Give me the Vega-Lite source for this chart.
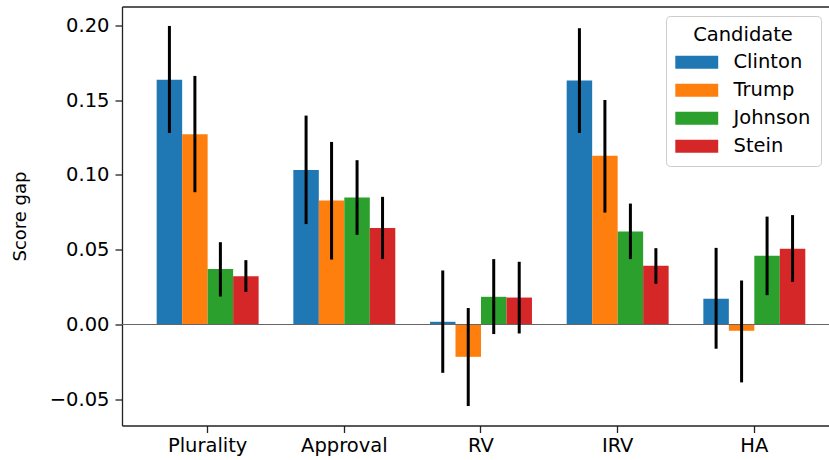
{
  "$schema": "https://vega.github.io/schema/vega-lite/v6.json",
  "width": 707,
  "height": 419,
  "autosize": {"type": "none"},
  "padding": {"left": 122, "top": 6.5, "right": 0, "bottom": 34.5},
  "background": "white",
  "config": {
    "view": {"stroke": null},
    "font": "DejaVu Sans",
    "axis": {
      "labelFont": "DejaVu Sans",
      "titleFont": "DejaVu Sans",
      "labelColor": "#000000",
      "titleColor": "#000000",
      "domainColor": "#222222",
      "tickColor": "#222222",
      "domainWidth": 1.3,
      "tickWidth": 1.3,
      "tickSize": 7,
      "grid": false
    },
    "legend": {
      "orient": "none",
      "legendX": 544,
      "legendY": 9.5,
      "padding": 10,
      "strokeColor": "#cccccc",
      "strokeWidth": 1,
      "cornerRadius": 4,
      "fillColor": "rgba(255,255,255,0.8)",
      "titleFont": "DejaVu Sans",
      "labelFont": "DejaVu Sans",
      "titleFontSize": 19.5,
      "labelFontSize": 19.5,
      "titleFontWeight": "normal",
      "titleColor": "#000000",
      "labelColor": "#000000",
      "titleAnchor": "middle",
      "titlePadding": 7,
      "rowPadding": 7,
      "symbolOffset": 11,
      "labelOffset": 27
    }
  },
  "data": {
    "values": [
      {"Method": "Plurality", "Candidate": "Clinton", "value": 0.1635, "lo": 0.128, "hi": 0.1995},
      {"Method": "Plurality", "Candidate": "Trump", "value": 0.1272, "lo": 0.0884, "hi": 0.1661},
      {"Method": "Plurality", "Candidate": "Johnson", "value": 0.037, "lo": 0.0187, "hi": 0.055},
      {"Method": "Plurality", "Candidate": "Stein", "value": 0.0323, "lo": 0.0218, "hi": 0.043},
      {"Method": "Approval", "Candidate": "Clinton", "value": 0.1033, "lo": 0.0671, "hi": 0.1396},
      {"Method": "Approval", "Candidate": "Trump", "value": 0.0828, "lo": 0.0434, "hi": 0.122},
      {"Method": "Approval", "Candidate": "Johnson", "value": 0.0848, "lo": 0.0599, "hi": 0.1098},
      {"Method": "Approval", "Candidate": "Stein", "value": 0.0644, "lo": 0.0437, "hi": 0.0853},
      {"Method": "RV", "Candidate": "Clinton", "value": 0.0018, "lo": -0.0323, "hi": 0.0361},
      {"Method": "RV", "Candidate": "Trump", "value": -0.0216, "lo": -0.0545, "hi": 0.011},
      {"Method": "RV", "Candidate": "Johnson", "value": 0.0185, "lo": -0.0064, "hi": 0.0437},
      {"Method": "RV", "Candidate": "Stein", "value": 0.018, "lo": -0.006, "hi": 0.0419},
      {"Method": "IRV", "Candidate": "Clinton", "value": 0.163, "lo": 0.128, "hi": 0.198},
      {"Method": "IRV", "Candidate": "Trump", "value": 0.1127, "lo": 0.0748, "hi": 0.15},
      {"Method": "IRV", "Candidate": "Johnson", "value": 0.0621, "lo": 0.0437, "hi": 0.0808},
      {"Method": "IRV", "Candidate": "Stein", "value": 0.0392, "lo": 0.0272, "hi": 0.051},
      {"Method": "HA", "Candidate": "Clinton", "value": 0.0172, "lo": -0.0162, "hi": 0.0512},
      {"Method": "HA", "Candidate": "Trump", "value": -0.0042, "lo": -0.0387, "hi": 0.0294},
      {"Method": "HA", "Candidate": "Johnson", "value": 0.0459, "lo": 0.0196, "hi": 0.0721},
      {"Method": "HA", "Candidate": "Stein", "value": 0.0506, "lo": 0.0285, "hi": 0.0731}
    ]
  },
  "layer": [
    {
      "mark": {"type": "bar"},
      "encoding": {
        "x": {
          "field": "Method", "type": "nominal",
          "sort": ["Plurality", "Approval", "RV", "IRV", "HA"],
          "scale": {"paddingInner": 0.254, "paddingOuter": 0.2135, "align": 0.594},
          "axis": {"orient": "bottom", "title": null, "labelAngle": 0, "labelFontSize": 19.5, "labelPadding": 4}
        },
        "xOffset": {
          "field": "Candidate", "type": "nominal",
          "sort": ["Clinton", "Trump", "Johnson", "Stein"],
          "scale": {"paddingInner": 0, "paddingOuter": 0}
        },
        "y": {
          "field": "value", "type": "quantitative",
          "scale": {"domain": [-0.0675, 0.2125], "nice": false, "zero": false},
          "axis": {"title": "Score gap", "values": [-0.05, 0, 0.05, 0.1, 0.15, 0.2], "format": ".2f", "labelFontSize": 19.5, "labelPadding": 6, "titleFontSize": 18, "titleFontWeight": "normal", "titlePadding": 19.5}
        },
        "color": {
          "field": "Candidate", "type": "nominal",
          "scale": {"domain": ["Clinton", "Trump", "Johnson", "Stein"], "range": ["#1f77b4", "#ff7f0e", "#2ca02c", "#d62728"]},
          "legend": {"title": "Candidate", "symbolType": "M-3.3,-1H3.3V1H-3.3Z", "symbolSize": 169, "symbolStrokeWidth": 0, "symbolOpacity": 1}
        }
      }
    },
    {
      "data": {"values": [{"zero": 0}]},
      "mark": {"type": "rule", "color": "#666666", "strokeWidth": 1.2},
      "encoding": {
        "y": {"field": "zero", "type": "quantitative", "axis": {"title": "Score gap", "values": [-0.05, 0, 0.05, 0.1, 0.15, 0.2], "format": ".2f", "labelFontSize": 19.5, "labelPadding": 6, "titleFontSize": 18, "titleFontWeight": "normal", "titlePadding": 19.5}}
      }
    },
    {
      "mark": {"type": "rule", "color": "#000000", "strokeWidth": 3},
      "encoding": {
        "x": {
          "field": "Method", "type": "nominal",
          "sort": ["Plurality", "Approval", "RV", "IRV", "HA"],
          "axis": {"orient": "top", "title": null, "labels": false, "ticks": false, "domain": true}
        },
        "xOffset": {
          "field": "Candidate", "type": "nominal",
          "sort": ["Clinton", "Trump", "Johnson", "Stein"]
        },
        "y": {"field": "lo", "type": "quantitative", "axis": {"title": "Score gap", "values": [-0.05, 0, 0.05, 0.1, 0.15, 0.2], "format": ".2f", "labelFontSize": 19.5, "labelPadding": 6, "titleFontSize": 18, "titleFontWeight": "normal", "titlePadding": 19.5}},
        "y2": {"field": "hi"}
      }
    }
  ],
  "resolve": {"axis": {"x": "independent"}}
}
